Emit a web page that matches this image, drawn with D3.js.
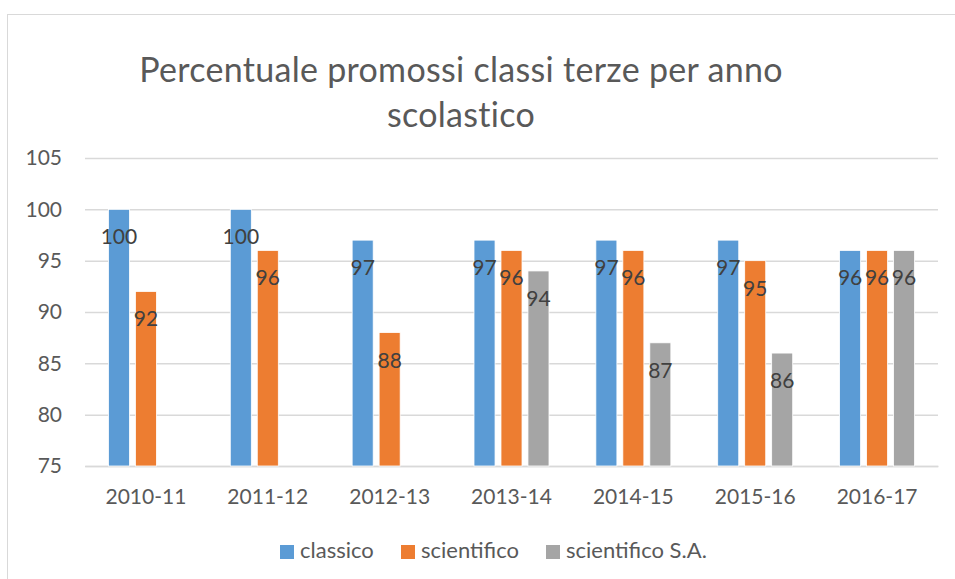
<!DOCTYPE html>
<html>
<head>
<meta charset="utf-8">
<script src="https://cdn.jsdelivr.net/npm/d3@7"></script>
<style>
  body { margin: 0; background: #fff; }
  svg text { font-family: Lato, "Open Sans", sans-serif; }
</style>
</head>
<body>
<div id="chart"></div>
<script>
// 資料
const years = ['2010-11', '2011-12', '2012-13', '2013-14', '2014-15', '2015-16', '2016-17'];
const seriesNames = ['classico', 'scientifico', 'scientifico S.A.'];
const classico = [100, 100, 97, 97, 97, 97, 96];
const scientifico = [92, 96, 88, 96, 96, 95, 96];
const scientificoSA = [null, null, null, 94, 87, 86, 96];
const yTicks = [75, 80, 85, 90, 95, 100, 105];
const colors = ['#5b9bd5', '#ed7d31', '#a5a5a5'];

const W = 955, H = 579;
const margin = {top: 158, right: 17, bottom: 113, left: 85};
const width = W - margin.left - margin.right;
const height = H - margin.top - margin.bottom;

const svg = d3.select('#chart').append('svg')
  .attr('width', W).attr('height', H);

// 外框
svg.append('rect')
  .attr('x', 7.5).attr('y', 14.5)
  .attr('width', W + 10).attr('height', H + 10)
  .attr('fill', 'none').attr('stroke', '#d9d9d9');

// 標題
const title = svg.append('text')
  .attr('text-anchor', 'middle')
  .attr('fill', '#595959')
  .style('font-size', '34px')
  .style('letter-spacing', '0.3px');
title.append('tspan').attr('x', 461).attr('y', 82).text('Percentuale promossi classi terze per anno');
title.append('tspan').attr('x', 461).attr('y', 127).text('scolastico');

const g = svg.append('g').attr('transform', `translate(${margin.left},${margin.top})`);

const x0 = d3.scaleBand().domain(years).range([0, width]).paddingInner(0).paddingOuter(0);
const x1 = d3.scaleBand().domain(seriesNames).range([0, 75]).paddingInner(0.22).paddingOuter(0);
const y = d3.scaleLinear().domain([75, 105]).range([height, 0]);

// 格線
g.append('g')
  .call(d3.axisLeft(y).tickValues(yTicks).tickSize(-width).tickFormat(''))
  .call(a => a.select('.domain').remove())
  .call(a => a.selectAll('line').attr('stroke', '#d9d9d9').attr('stroke-width', 1.5));

// Y 軸標籤
g.append('g')
  .call(d3.axisLeft(y).tickValues(yTicks).tickSize(0).tickPadding(23))
  .call(a => a.select('.domain').remove())
  .call(a => a.selectAll('text')
    .attr('fill', '#595959')
    .style('font-size', '21px'));

// X 軸
g.append('g')
  .attr('transform', `translate(0,${height})`)
  .call(d3.axisBottom(x0).tickSize(0).tickPadding(23))
  .call(a => a.select('.domain').attr('stroke', '#d9d9d9').attr('stroke-width', 1.5))
  .call(a => a.selectAll('text')
    .attr('fill', '#595959')
    .style('font-size', '21px'));

const rows = years.map((yr, i) => ({
  year: yr,
  vals: [classico[i], scientifico[i], scientificoSA[i]]
}));

const groupW = x1.range()[1];
const grp = g.selectAll('.grp').data(rows).enter().append('g')
  .attr('transform', d => `translate(${x0(d.year) + (x0.bandwidth() - groupW) / 2},0)`);

const cells = d => d.vals.map((v, k) => ({name: seriesNames[k], v, k})).filter(c => c.v != null);

grp.selectAll('rect').data(cells).enter().append('rect')
  .attr('x', c => x1(c.name))
  .attr('y', c => y(c.v))
  .attr('width', x1.bandwidth())
  .attr('height', c => height - y(c.v))
  .attr('fill', c => colors[c.k])
  .attr('stroke', '#fff').attr('stroke-width', 0.8);

// 數值標籤
grp.selectAll('.lbl').data(cells).enter().append('text')
  .attr('x', c => x1(c.name) + x1.bandwidth() / 2)
  .attr('y', c => y(c.v) + 35)
  .attr('text-anchor', 'middle')
  .attr('fill', '#404040')
  .style('font-size', '21px')
  .text(c => c.v);

// 圖例
const legendX = [280, 401, 546];
const leg = svg.append('g').selectAll('g').data(seriesNames).enter().append('g')
  .attr('transform', (d, i) => `translate(${legendX[i]},545)`);
leg.append('rect').attr('width', 14).attr('height', 14).attr('fill', (d, i) => colors[i]);
leg.append('text').attr('x', 20).attr('y', 13)
  .attr('fill', '#595959')
  .style('font-size', '22px')
  .text(d => d);
</script>
</body>
</html>
